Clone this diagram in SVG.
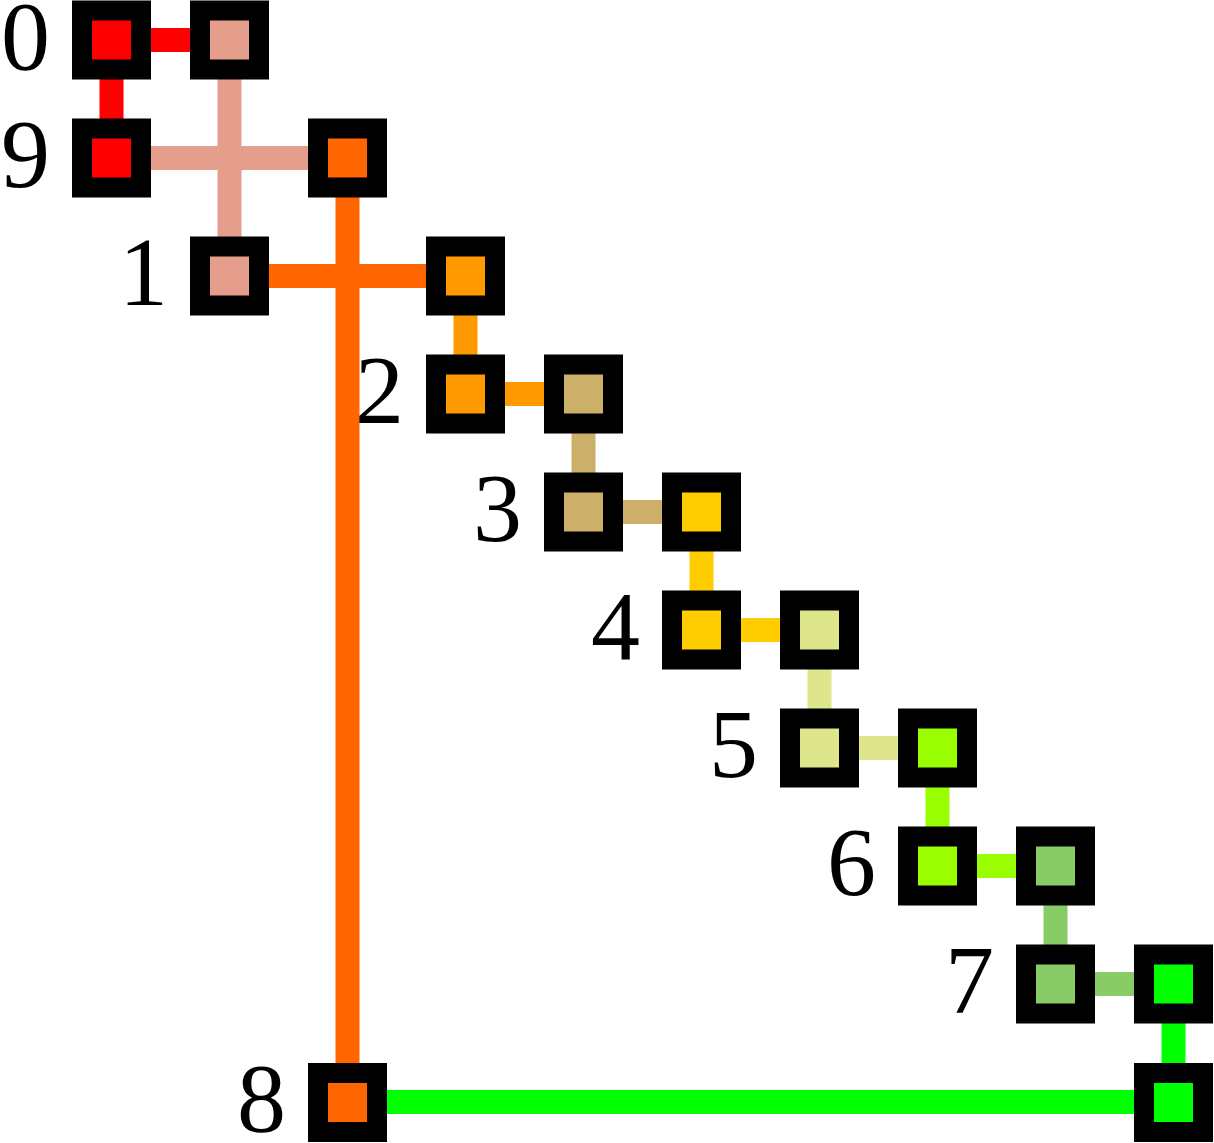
<svg xmlns="http://www.w3.org/2000/svg" width="1214" height="1143" viewBox="0 0 1214 1143">
<style>
.n{stroke:#000;stroke-width:20}
.e{stroke-width:24;fill:none;stroke-linecap:butt}
.l{font-family:"Liberation Serif","DejaVu Serif",serif;font-size:98px;text-anchor:end;fill:#000}
</style>
<rect width="1214" height="1143" fill="#fff"/>
<g id="connectors">
<line class="e" stroke="#FF0000" x1="111.5" y1="40" x2="229.5" y2="40"/>
<line class="e" stroke="#FF0000" x1="111.5" y1="40" x2="111.5" y2="158"/>
<line class="e" stroke="#E59E8C" x1="229.5" y1="40" x2="229.5" y2="276"/>
<line class="e" stroke="#E59E8C" x1="111.5" y1="158" x2="347.5" y2="158"/>
<line class="e" stroke="#FF6600" x1="229.5" y1="276" x2="465.5" y2="276"/>
<line class="e" stroke="#FF6600" x1="347.5" y1="158" x2="347.5" y2="1102"/>
<line class="e" stroke="#FF9900" x1="465.5" y1="276" x2="465.5" y2="394"/>
<line class="e" stroke="#FF9900" x1="465.5" y1="394" x2="583.5" y2="394"/>
<line class="e" stroke="#CCB06A" x1="583.5" y1="394" x2="583.5" y2="512"/>
<line class="e" stroke="#CCB06A" x1="583.5" y1="512" x2="701.5" y2="512"/>
<line class="e" stroke="#FFCC00" x1="701.5" y1="512" x2="701.5" y2="630"/>
<line class="e" stroke="#FFCC00" x1="701.5" y1="630" x2="819.5" y2="630"/>
<line class="e" stroke="#DDE68A" x1="819.5" y1="630" x2="819.5" y2="748"/>
<line class="e" stroke="#DDE68A" x1="819.5" y1="748" x2="937.5" y2="748"/>
<line class="e" stroke="#99FF00" x1="937.5" y1="748" x2="937.5" y2="866"/>
<line class="e" stroke="#99FF00" x1="937.5" y1="866" x2="1055.5" y2="866"/>
<line class="e" stroke="#88CC66" x1="1055.5" y1="866" x2="1055.5" y2="984"/>
<line class="e" stroke="#88CC66" x1="1055.5" y1="984" x2="1173.5" y2="984"/>
<line class="e" stroke="#00FF00" x1="1173.5" y1="984" x2="1173.5" y2="1102"/>
<line class="e" stroke="#00FF00" x1="347.5" y1="1102" x2="1173.5" y2="1102"/>
</g>
<g id="n0a"><rect class="n" fill="#FF0000" x="82" y="10.5" width="59" height="59"/><text class="l" x="50" y="69">0</text></g>
<g id="n0b"><rect class="n" fill="#E59E8C" x="200" y="10.5" width="59" height="59"/></g>
<g id="n9a"><rect class="n" fill="#FF0000" x="82" y="128.5" width="59" height="59"/><text class="l" x="50" y="187">9</text></g>
<g id="n9b"><rect class="n" fill="#FF6600" x="318" y="128.5" width="59" height="59"/></g>
<g id="n1a"><rect class="n" fill="#E59E8C" x="200" y="246.5" width="59" height="59"/><text class="l" x="168" y="305">1</text></g>
<g id="n1b"><rect class="n" fill="#FF9900" x="436" y="246.5" width="59" height="59"/></g>
<g id="n2a"><rect class="n" fill="#FF9900" x="436" y="364.5" width="59" height="59"/><text class="l" x="404" y="423">2</text></g>
<g id="n2b"><rect class="n" fill="#CCB06A" x="554" y="364.5" width="59" height="59"/></g>
<g id="n3a"><rect class="n" fill="#CCB06A" x="554" y="482.5" width="59" height="59"/><text class="l" x="522" y="541">3</text></g>
<g id="n3b"><rect class="n" fill="#FFCC00" x="672" y="482.5" width="59" height="59"/></g>
<g id="n4a"><rect class="n" fill="#FFCC00" x="672" y="600.5" width="59" height="59"/><text class="l" x="640" y="659">4</text></g>
<g id="n4b"><rect class="n" fill="#DDE68A" x="790" y="600.5" width="59" height="59"/></g>
<g id="n5a"><rect class="n" fill="#DDE68A" x="790" y="718.5" width="59" height="59"/><text class="l" x="758" y="777">5</text></g>
<g id="n5b"><rect class="n" fill="#99FF00" x="908" y="718.5" width="59" height="59"/></g>
<g id="n6a"><rect class="n" fill="#99FF00" x="908" y="836.5" width="59" height="59"/><text class="l" x="876" y="895">6</text></g>
<g id="n6b"><rect class="n" fill="#88CC66" x="1026" y="836.5" width="59" height="59"/></g>
<g id="n7a"><rect class="n" fill="#88CC66" x="1026" y="954.5" width="59" height="59"/><text class="l" x="994" y="1013">7</text></g>
<g id="n7b"><rect class="n" fill="#00FF00" x="1144" y="954.5" width="59" height="59"/></g>
<g id="n8a"><rect class="n" fill="#FF6600" x="318" y="1073" width="59" height="59"/><text class="l" x="286" y="1131">8</text></g>
<g id="n8b"><rect class="n" fill="#00FF00" x="1144" y="1073" width="59" height="59"/></g>
</svg>
